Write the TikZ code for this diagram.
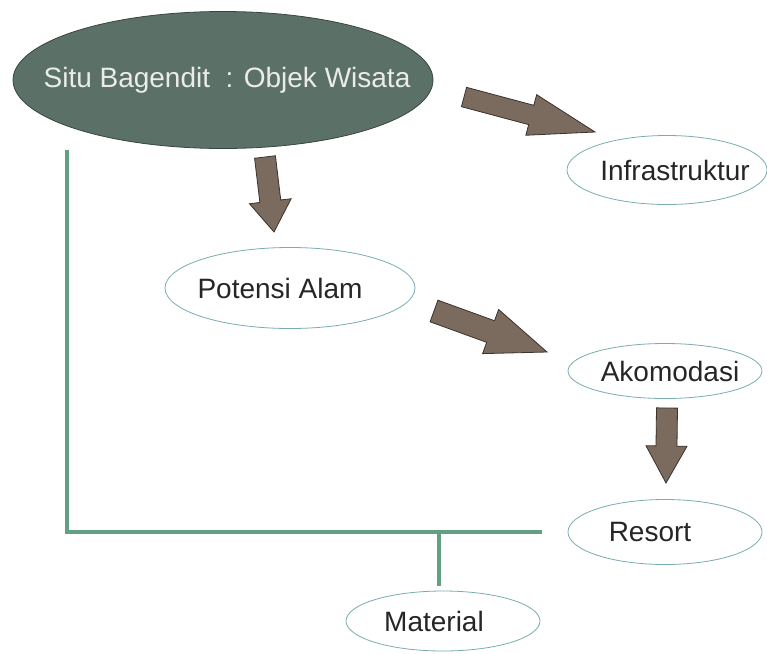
\documentclass[tikz,border=0pt]{standalone}
\usepackage{fontspec}
\setmainfont{Liberation Sans}
\usetikzlibrary{shapes.geometric,calc}

\definecolor{situfill}{RGB}{91,112,103}
\definecolor{situline}{RGB}{55,70,64}
\definecolor{ringline}{RGB}{122,172,176}
\definecolor{linegreen}{RGB}{98,160,130}
\definecolor{arrowfill}{RGB}{122,107,94}
\definecolor{arrowline}{RGB}{58,50,44}

\tikzset{
  bubble/.style={ellipse, draw=ringline, line width=0.8pt, fill=white, inner sep=0pt},
  lbl/.style={inner sep=0pt, text=black!85, font=\fontsize{28}{34}\selectfont},
  linkline/.style={linegreen, line width=4pt},
  fatarrow/.style={fill=arrowfill, draw=arrowline, line width=0.8pt, line join=miter},
}

% tail, tip, shaft half width, head half width, head length
\newcommand{\bigarrow}[5]{%
  \filldraw[fatarrow] ($(#1)!#3!90:(#2)$) -- ($(#2)!#5!(#1)!#3!-90:(#1)$)
    -- ($(#2)!#5!(#1)!#4!-90:(#1)$) -- (#2)
    -- ($(#2)!#5!(#1)!#4!90:(#1)$) -- ($(#2)!#5!(#1)!#3!90:(#1)$)
    -- ($(#1)!#3!-90:(#2)$) -- cycle;}

\begin{document}
\begin{tikzpicture}[x=1pt,y=-1pt]
  \useasboundingbox (0,0) rectangle (767,653);

  % ellipses
  \node[ellipse, fill=situfill, draw=situline, line width=0.8pt, inner sep=0pt,
    minimum width=420pt, minimum height=137pt,
    label={[lbl, xshift=4pt, text=white!92!black]center:Situ Bagendit\ \ : Objek Wisata}] (situ) at (223,80) {};
  \node[bubble, minimum width=200pt, minimum height=69pt,
    label={[lbl, xshift=8pt]center:Infrastruktur}] (infra) at (667,170) {};
  \node[bubble, minimum width=250pt, minimum height=81pt,
    label={[lbl, xshift=-10pt]center:Potensi Alam}] (alam) at (290,288) {};
  \node[bubble, minimum width=194pt, minimum height=55pt,
    label={[lbl, xshift=5pt]center:Akomodasi}] (akom) at (665,371) {};
  \node[bubble, minimum width=194pt, minimum height=65pt,
    label={[lbl, xshift=-15pt]center:Resort}] (resort) at (665,532) {};
  \node[bubble, minimum width=194pt, minimum height=60pt,
    label={[lbl, xshift=-9pt]center:Material}] (mat) at (443,621) {};

  % big arrows
  \coordinate (a1s) at (464,97);  \coordinate (a1e) at (595,132);
  \coordinate (a2s) at (265,157); \coordinate (a2e) at (274,232);
  \coordinate (a3s) at (434,311); \coordinate (a3e) at (547,352);
  \coordinate (a4s) at (667,408); \coordinate (a4e) at (666,483);
  \bigarrow{a1s}{a1e}{10pt}{21pt}{66pt}
  \bigarrow{a2s}{a2e}{10.5pt}{21pt}{31pt}
  \bigarrow{a3s}{a3e}{11.5pt}{23.5pt}{60pt}
  \bigarrow{a4s}{a4e}{10.5pt}{20.5pt}{37pt}

  % green lines
  \coordinate (lt) at (67,150);
  \coordinate (lb) at (67,532);
  \coordinate (lr) at (542,532);
  \coordinate (tm) at (439,532);
  \coordinate (tb) at (439,586);
  \draw[linkline] (lt) -- (lb) -- (lr);
  \draw[linkline] (tm) -- (tb);
\end{tikzpicture}
\end{document}
